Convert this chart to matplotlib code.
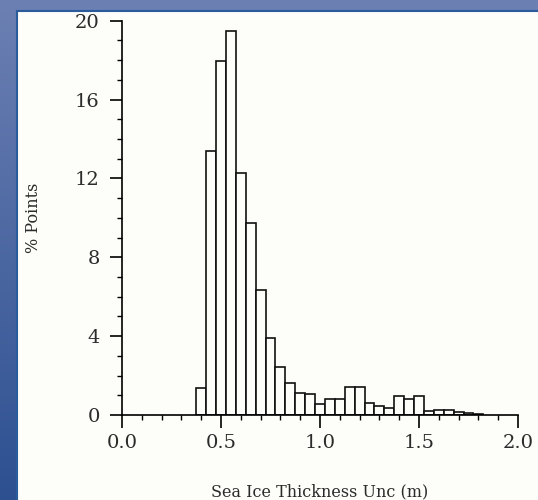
import numpy as np
import matplotlib as mpl

mpl.use("agg")

import matplotlib.pyplot as plt

# histogram of sea ice thickness uncertainty, bins 0.05 m wide
bin_centers = np.round(np.arange(0.40, 1.801, 0.05), 2)
pct_points = [1.35, 13.37, 17.98, 19.49, 12.27, 9.76, 6.35, 3.89, 2.41, 1.62,
              1.14, 1.07, 0.54, 0.80, 0.80, 1.41, 1.41, 0.63, 0.46, 0.34,
              0.96, 0.80, 0.98, 0.22, 0.27, 0.27, 0.15, 0.10, 0.05]
bin_width = 0.05

xticks = [0.0, 0.5, 1.0, 1.5, 2.0]
xticklabels = ["0.0", "0.5", "1.0", "1.5", "2.0"]
yticks = [0, 4, 8, 12, 16, 20]

plt.rcParams['font.family'] = ['DejaVu Serif']
txt = '#2b2b2b'

fig = plt.figure(figsize=(5.38, 5.0), dpi=100)
fig.patch.set_facecolor('#4a68a6')

# blue gradient frame + white panel, drawn on a background axes
bg = fig.add_axes([0, 0, 1, 1], zorder=0)
grad = np.linspace(0, 1, 256).reshape(-1, 1)
cmap = mpl.colors.LinearSegmentedColormap.from_list('frame', ['#6c80b3', '#2d5091'])
bg.imshow(grad, aspect='auto', cmap=cmap, extent=[0, 1, 0, 1], origin='upper')
bg.add_patch(mpl.patches.Rectangle((17 / 538, -0.01), 1.0, (500 - 11) / 500 + 0.01,
                                   facecolor='#fdfdf9', edgecolor='#2a5c9c',
                                   linewidth=1.5, zorder=2))
bg.set_xlim(0, 1)
bg.set_ylim(0, 1)
bg.set_axis_off()

ax = fig.add_axes([122 / 538, 85 / 500, 396 / 538, 394.3 / 500], zorder=1)
ax.set_facecolor('none')
ax.bar(bin_centers, pct_points, width=bin_width, facecolor='#fdfdf9',
       edgecolor='#111111', linewidth=1.2)

ax.set_xlim(0, 2.0)
ax.set_ylim(0, 20)
ax.set_xticks(xticks)
ax.set_xticklabels(xticklabels)
ax.set_xticks(np.arange(0, 2.01, 0.1), minor=True)
ax.set_yticks(yticks)
ax.set_yticks(np.arange(0, 21, 1), minor=True)

for side in ['top', 'right']:
    ax.spines[side].set_visible(False)
ax.spines['left'].set_linewidth(1.2)
ax.spines['bottom'].set_linewidth(1.2)

ax.tick_params(axis='both', which='major', length=9, width=1.2, labelsize=14,
               pad=5, labelcolor=txt)
ax.tick_params(axis='both', which='minor', length=3.6, width=1.0)
ax.tick_params(axis='y', which='major', pad=7)

ax.set_xlabel('Sea Ice Thickness Unc (m)', fontsize=11.5, labelpad=22, color=txt)
ax.set_ylabel('% Points', fontsize=11.5, labelpad=24, color=txt)

plt.savefig("out.png", dpi=100)
